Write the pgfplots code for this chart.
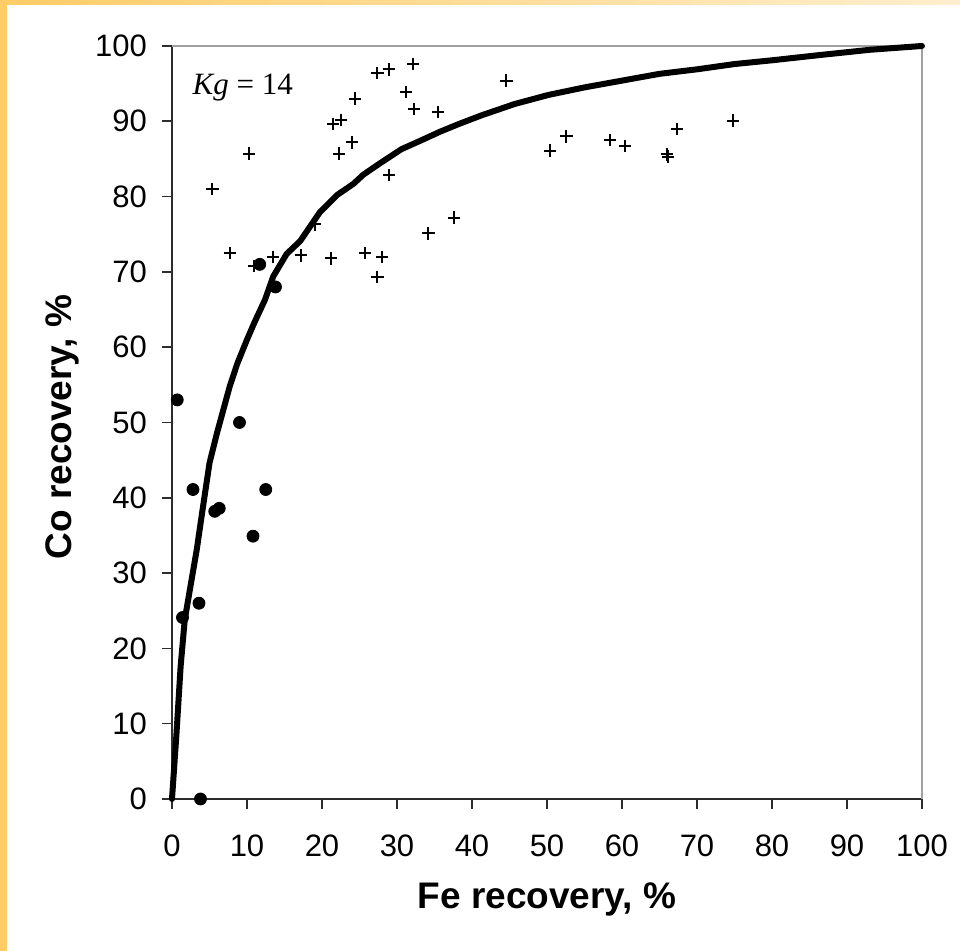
\documentclass[border=0pt]{standalone}
\usepackage{pgfplots}
\pgfplotsset{compat=1.18}
\usepackage{fontspec}
\setmainfont{Liberation Sans}
\newfontfamily\timesfont{Liberation Serif}
\definecolor{frameorange}{RGB}{255,204,102}
\definecolor{framelight}{RGB}{255,238,205}
\definecolor{boxgray}{RGB}{160,160,160}
\definecolor{axisdark}{RGB}{45,45,45}

\begin{document}
\begin{tikzpicture}
% slide area around the chart, with the orange frame at left and top
\path[use as bounding box] (-86pt,-76pt) rectangle (394pt,399.5pt);
\fill[white] (-86pt,-76pt) rectangle (394pt,399.5pt);
\fill[frameorange] (-86pt,-76pt) rectangle (-82.25pt,399.5pt);
\shade[left color=frameorange, right color=framelight] (-86pt,397pt) rectangle (394pt,399.5pt);

\begin{axis}[
  at={(0,0)}, anchor=south west,
  scale only axis, width=375pt, height=376.5pt,
  xmin=0, xmax=100, ymin=0, ymax=100,
  axis lines=left,
  axis line style={-, draw=axisdark, line width=0.8pt},
  xtick={0,10,...,100}, ytick={0,10,...,100},
  tick align=outside, major tick length=5pt,
  tick style={draw=axisdark, line width=0.8pt},
  /pgf/number format/assume math mode=true,
  ticklabel style={font=\fontsize{15.5}{18}\selectfont},
  xticklabel style={yshift=-9.5pt},
  yticklabel style={xshift=-4pt},
  xlabel={Fe recovery, \%},
  ylabel={Co recovery, \%},
  label style={font=\bfseries\fontsize{18.5}{21}\selectfont},
  xlabel style={at={(axis description cs:0.5,-0.134)}, anchor=center},
  ylabel style={at={(axis description cs:-0.1467,0.494)}, anchor=center},
  clip=false,
]

% light frame on the top and right of the plot area
\draw[boxgray, line width=0.8pt] (axis cs:0,100) -- (axis cs:100,100) -- (axis cs:100,0);

% flotation tests, Co recovery vs Fe recovery
\addplot[only marks, mark=+, mark size=3.1pt, line width=1pt, black] coordinates {
  (5.4,81.0) (10.3,85.7) (7.7,72.5) (11.0,70.8) (13.5,72.0) (17.2,72.2)
  (19.1,76.3) (21.2,71.8) (21.5,89.6) (22.5,90.2) (22.3,85.7) (24.0,87.2)
  (24.4,93.0) (25.7,72.5) (27.4,96.4) (28.9,96.9) (32.1,97.6) (31.2,93.9)
  (32.3,91.6) (35.5,91.2) (28.9,82.9) (28.0,72.0) (27.4,69.3) (34.2,75.1)
  (37.6,77.2) (44.6,95.4) (50.4,86.1) (52.6,88.0) (58.4,87.5) (60.4,86.7)
  (66.0,85.6) (66.1,85.3) (67.3,89.0) (74.8,90.1)
};

% selectivity curve, Kg = 14
\addplot[black, line width=3pt, line join=round, line cap=round, mark=none] coordinates {
  (0,0) (0.6,8.7) (1.15,17.6) (1.7,23.8) (2.3,27.3) (3.3,33.1) (4.0,37.9)
  (5.0,44.6) (6.0,48.6) (7.7,54.8) (8.7,57.8) (10.0,61.0) (11.0,63.3)
  (12.4,66.3) (13.5,69.4) (15.3,72.4) (17.1,74.1) (18.4,76.0) (19.7,77.9)
  (22.0,80.2) (24.2,81.7) (25.5,82.9) (27.7,84.4) (30.6,86.3) (33.3,87.5)
  (35.7,88.6) (38.4,89.7) (41.3,90.8) (45.7,92.3) (50.2,93.5) (55,94.5)
  (60,95.4) (65,96.3) (70,96.9) (75,97.6) (80,98.1) (86.4,98.8) (93.1,99.5) (100,100)
};

% low-recovery tests
\addplot[only marks, mark=*, mark size=3pt, black] coordinates {
  (0.7,53.0) (9.0,50.0) (2.8,41.1) (12.5,41.1) (5.7,38.2) (6.3,38.6)
  (10.8,34.9) (3.6,26.0) (1.4,24.1) (3.8,0) (11.7,71.0) (13.8,68.0)
};

\node[anchor=base west, inner sep=0pt, font=\timesfont\fontsize{15.5}{18}\selectfont]
  at (axis cs:2.7,93.5) {{\itshape Kg} = 14};
\end{axis}
\end{tikzpicture}
\end{document}
